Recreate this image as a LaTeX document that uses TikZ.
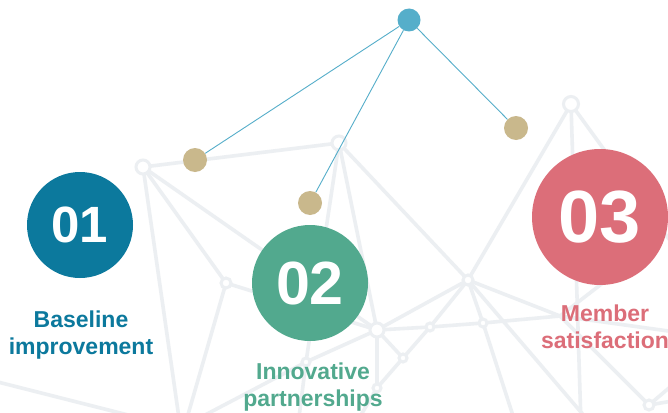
\documentclass[tikz,border=0pt]{standalone}
\usepackage{fontspec}
\setmainfont{Liberation Sans}
\pgfdeclarelayer{paper}
\pgfdeclarelayer{bg}
\pgfsetlayers{paper,bg,main}
\definecolor{netgray}{HTML}{ECEFF2}
\definecolor{cone}{HTML}{0C799D}
\definecolor{ctwo}{HTML}{52A98E}
\definecolor{cthree}{HTML}{DC6E79}
\definecolor{gold}{HTML}{C9B88C}
\definecolor{topblue}{HTML}{55AECA}
\begin{document}
\begin{tikzpicture}[x=1pt,y=-1pt,
  net/.style={draw=netgray,line width=3.6pt,line cap=round},
  nd/.style={circle,draw=netgray,fill=white,line width=3pt,inner sep=0pt,minimum size=#1},
  golddot/.style={circle,fill=gold,inner sep=0pt,minimum size=24pt},
  link/.style={draw=topblue,line width=0.9pt},
  bignum/.style={circle,inner sep=0pt,text=white,font=\bfseries},
  lbl/.style={align=center,font=\bfseries\fontsize{23}{27}\selectfont}]
\clip (0,0) rectangle (668,412);
\begin{pgfonlayer}{paper}
\fill[white] (0,0) rectangle (668,412);
\end{pgfonlayer}
% background network nodes
\node[nd=14pt] (A) at (143,167) {};
\node[nd=14pt] (B) at (339,143) {};
\node[nd=10pt] (C) at (226,283) {};
\node[nd=14pt] (D) at (377,330) {};
\node[nd=8pt] (E) at (430,327) {};
\node[nd=10pt] (F) at (468,280) {};
\node[nd=8pt] (G) at (483,323) {};
\node[nd=8pt] (H) at (403,358) {};
\node[nd=8pt] (I) at (377,388) {};
\node[nd=15pt] (J) at (571,104) {};
\node[nd=10pt] (K) at (649,405) {};
\node[nd=8pt] (L) at (306,362) {};
\coordinate (M) at (560,316);
\coordinate (eA) at (180,425);
\coordinate (eC) at (185,425);
\coordinate (eL1) at (298,425);
\coordinate (eL2) at (186,425);
\coordinate (eG) at (516,425);
\coordinate (eF) at (592,425);
\coordinate (eI) at (355,425);
\coordinate (eJ1) at (581,425);
\coordinate (eJ2) at (690,268);
\coordinate (eM1) at (690,334);
\coordinate (eM2) at (630,262);
\coordinate (eK1) at (690,398);
\coordinate (eK2) at (690,370);
\coordinate (eW1) at (-10,380);
\coordinate (eW2) at (140,418);
\begin{pgfonlayer}{bg}
\draw[net] (A.center) -- (B.center);
\draw[net] (A.center) -- (C.center);
\draw[net] (A.center) -- (D.center);
\draw[net] (A.center) -- (eA);
\draw[net] (C.center) -- (D.center);
\draw[net] (C.center) -- (eC);
\draw[net] (B.center) -- (D.center);
\draw[net] (B.center) -- (F.center);
\draw[net] (B.center) -- (L.center);
\draw[net] (L.center) -- (D.center);
\draw[net] (L.center) -- (eL1);
\draw[net] (L.center) -- (eL2);
\draw[net] (D.center) -- (E.center);
\draw[net] (D.center) -- (F.center);
\draw[net] (D.center) -- (H.center);
\draw[net] (D.center) -- (I.center);
\draw[net] (E.center) -- (G.center);
\draw[net] (E.center) -- (F.center);
\draw[net] (E.center) -- (H.center);
\draw[net] (F.center) -- (G.center);
\draw[net] (F.center) -- (J.center);
\draw[net] (F.center) -- (M);
\draw[net] (F.center) -- (eF);
\draw[net] (G.center) -- (M);
\draw[net] (G.center) -- (eG);
\draw[net] (H.center) -- (I.center);
\draw[net] (I.center) -- (eI);
\draw[net] (J.center) -- (eJ1);
\draw[net] (J.center) -- (eJ2);
\draw[net] (M) -- (K.center);
\draw[net] (M) -- (eM1);
\draw[net] (M) -- (eM2);
\draw[net] (K.center) -- (eK1);
\draw[net] (K.center) -- (eK2);
\draw[net] (eW1) -- (eW2);
\end{pgfonlayer}
% top hierarchy
\node[circle,fill=topblue,inner sep=0pt,minimum size=23pt] (T) at (409,20) {};
\node[golddot] (g1) at (195,160) {};
\node[golddot] (g2) at (310,203) {};
\node[golddot] (g3) at (516,128) {};
\draw[link] (T) -- (g1);
\draw[link] (T) -- (g2);
\draw[link] (T) -- (g3);
% numbered circles
\node[bignum,fill=cone,minimum size=106pt,font=\bfseries\fontsize{51}{51}\selectfont] (c1) at (80,225) {01};
\node[bignum,fill=ctwo,minimum size=116pt,font=\bfseries\fontsize{61}{61}\selectfont] (c2) at (310,283) {02};
\node[bignum,fill=cthree,minimum size=136pt,font=\bfseries\fontsize{74}{74}\selectfont] (c3) at (600,217) {03};
% labels
\node[lbl,text=cone] (t1) at (81,335) {Baseline\\improvement};
\node[lbl,text=ctwo] (t2) at (313,387) {Innovative\\partnerships};
\node[lbl,text=cthree] (t3) at (605,327) {Member\\satisfaction};
\end{tikzpicture}
\end{document}
